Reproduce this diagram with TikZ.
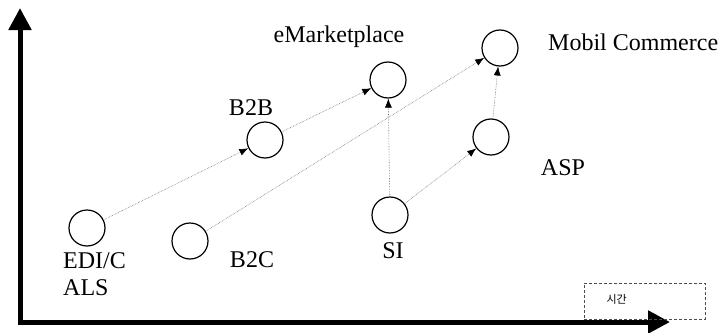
\documentclass[tikz,border=0pt]{standalone}
\usepackage{fontspec}
\setmainfont{Liberation Serif}
\newfontfamily\korfont{Noto Sans CJK KR}
\usetikzlibrary{arrows.meta}

\begin{document}
\begin{tikzpicture}
    [x=1pt,y=-1pt,
     axisstyle/.style={draw=black,line width=5pt,-{Triangle[length=22pt,width=22pt]}},
     stagestyle/.style={draw=black,line width=1.2pt,circle,minimum size=36pt,inner sep=0pt},
     linkstyle/.style={draw=black!55,line width=0.6pt,densely dotted,-{Latex[length=9pt,width=7pt,black]}},
     labelstyle/.style={font=\fontsize{24}{27}\selectfont,inner sep=0pt}]

    \useasboundingbox (0,0) rectangle (720,332);

    \draw [axisstyle] (20,324) -- (20,8);
    \draw [axisstyle] (18,322) -- (670,322);

    \node[stagestyle] (edi) at (87,228) {};
    \node[stagestyle] (btoc) at (190,241) {};
    \node[stagestyle] (btob) at (265,140) {};
    \node[stagestyle] (emkt) at (388,80) {};
    \node[stagestyle] (mobil) at (500,48) {};
    \node[stagestyle] (asp) at (491,137) {};
    \node[stagestyle] (si) at (390,215) {};

    \node[labelstyle,anchor=west,align=left] (edilabel) at (63,274) {EDI/C\\ALS};
    \node[labelstyle] (btoclabel) at (252,260) {B2C};
    \node[labelstyle] (btoblabel) at (251,108) {B2B};
    \node[labelstyle] (emktlabel) at (339,37) {eMarketplace};
    \node[labelstyle,anchor=west] (mobillabel) at (548,42) {Mobil Commerce};
    \node[labelstyle] (asplabel) at (563,168) {ASP};
    \node[labelstyle] (silabel) at (393,251) {SI};

    \draw [linkstyle] (edi) -- (btob);
    \draw [linkstyle] (btob) -- (emkt);
    \draw [linkstyle] (btoc) -- (mobil);
    \draw [linkstyle] (si) -- (emkt);
    \draw [linkstyle] (si) -- (asp);
    \draw [linkstyle] (asp) -- (mobil);

    \node[draw=black!70,densely dashed,line width=0.5pt,minimum width=121pt,minimum height=36pt,
          anchor=north west,inner sep=0pt] (timebox) at (584,283) {};
    \node[font=\korfont\fontsize{11}{13}\selectfont,anchor=west] (timelabel) at (603,299) {시간};
\end{tikzpicture}
\end{document}
